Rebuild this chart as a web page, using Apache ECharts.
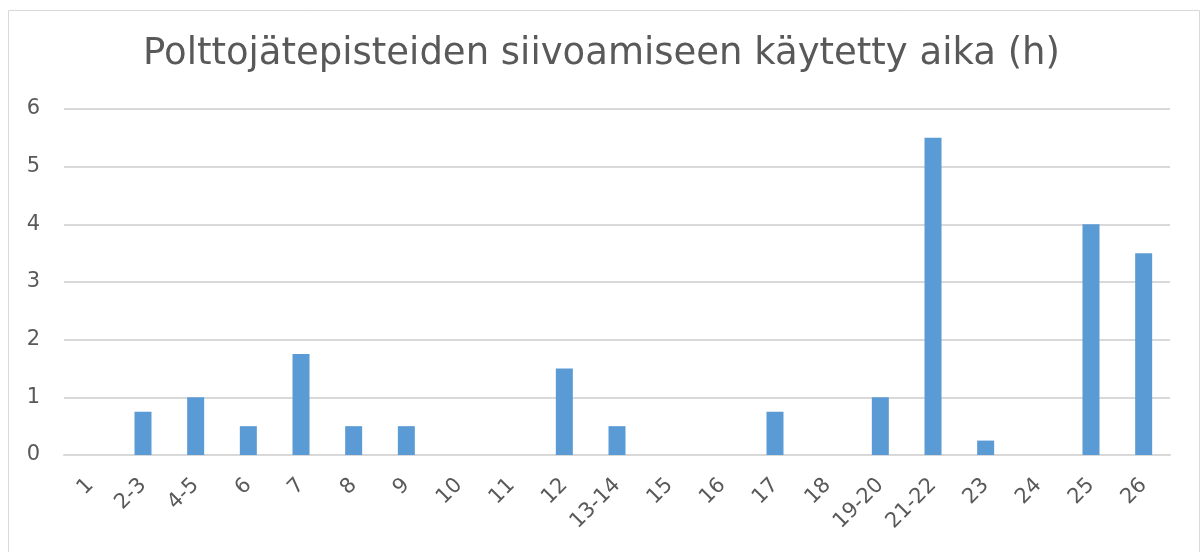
<!DOCTYPE html>
<html><head><meta charset="utf-8">
<script src="https://cdn.jsdelivr.net/npm/echarts@6/dist/echarts.min.js"></script>
<style>html,body{margin:0;padding:0;background:#fff}#c{width:1203px;height:552px}</style>
</head><body><div id="c"></div>
<script>
const titleText = 'Polttojätepisteiden siivoamiseen käytetty aika (h)';
const categories = ['1','2-3','4-5','6','7','8','9','10','11','12','13-14','15','16','17','18','19-20','21-22','23','24','25','26'];
const values = [0,0.75,1,0.5,1.75,0.5,0.5,0,0,1.5,0.5,0,0,0.75,0,1,5.5,0.25,0,4,3.5];
const chart = echarts.init(document.getElementById('c'));
chart.setOption({
  animation:false,
  backgroundColor:'#fff',
  graphic:[{type:'rect',shape:{x:8.5,y:10.5,width:1191,height:560},style:{fill:'none',stroke:'#d9d9d9',lineWidth:1},silent:true,z:-1}],
  title:{text:titleText,left:'center',top:31,textStyle:{fontFamily:'DejaVu Sans',fontSize:37,fontWeight:'normal',color:'#595959'}},
  grid:{left:64,right:33,top:109,bottom:97,containLabel:false},
  xAxis:{type:'category',data:categories,
    axisLine:{lineStyle:{color:'#d9d9d9',width:2}},axisTick:{show:false},
    axisLabel:{rotate:45,interval:0,fontFamily:'DejaVu Sans',fontSize:21,color:'#595959',margin:27}},
  yAxis:{type:'value',min:0,max:6,interval:1,
    axisLine:{show:false},axisTick:{show:false},
    splitLine:{lineStyle:{color:'#d9d9d9',width:2}},
    axisLabel:{fontFamily:'DejaVu Sans',fontSize:21,color:'#595959',margin:24}},
  series:[{type:'bar',data:values,barWidth:17,itemStyle:{color:'#5B9BD5'}}]
});
</script></body></html>
